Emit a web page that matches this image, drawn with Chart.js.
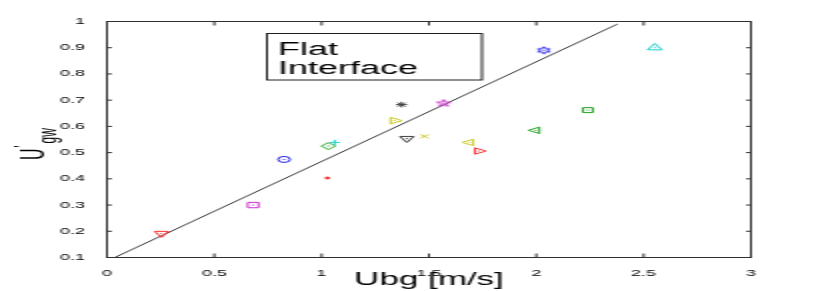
<!DOCTYPE html>
<html><head><meta charset="utf-8">
<script src="https://cdn.jsdelivr.net/npm/chart.js@4.4.1/dist/chart.umd.min.js"></script>
<style>
html,body{margin:0;padding:0;background:#fff;overflow:hidden}
#wrap{width:830px;height:291px;position:relative;overflow:hidden}
#c{position:absolute;left:0;top:0;width:415px;height:291px;transform:scaleX(2);transform-origin:0 0}
</style></head><body><div id="wrap"><canvas id="c" width="415" height="291"></canvas></div>
<script>
// ---- data ----
const ubg = [0.254, 0.681, 0.825, 1.031, 1.061, 1.027, 1.372, 1.339, 1.397, 1.479, 1.568, 1.689, 1.731, 1.997, 2.240, 2.035, 2.552];
const ugw = [0.192, 0.300, 0.474, 0.525, 0.539, 0.403, 0.683, 0.622, 0.554, 0.562, 0.688, 0.539, 0.506, 0.585, 0.662, 0.890, 0.900];
const fitX = [0.036, 2.378];
const fitY = [0.100, 0.990];
const xTickValues = [0, 0.5, 1, 1.5, 2, 2.5, 3];
const xTickLabels = ['0', '0.5', '1', '1.5', '2', '2.5', '3'];
const yTickValues = [0.1, 0.2, 0.3, 0.4, 0.5, 0.6, 0.7, 0.8, 0.9, 1];
const yTickLabels = ['0.1', '0.2', '0.3', '0.4', '0.5', '0.6', '0.7', '0.8', '0.9', '1'];
const xTitle = 'Ubg [m/s]';
const boxLines = ['Flat', 'Interface'];

// ---- marker styling ----
const C = {r:'#ff3030', m:'#d030d0', b:'#2020f0', g:'#20a020', c:'#20d0d0', y:'#c8c820', k:'#404040'};
function makeStar(n, ro, ri, color){
  const cv = document.createElement('canvas'); cv.width = 10; cv.height = 10;
  const g = cv.getContext('2d'); g.strokeStyle = color; g.lineWidth = 1;
  g.beginPath();
  for (let i = 0; i < 2*n; i++){
    const a = -Math.PI/2 + i*Math.PI/n, r = i%2 ? ri : ro;
    const px = 5 + r*Math.cos(a), py = 5 + r*Math.sin(a);
    i ? g.lineTo(px, py) : g.moveTo(px, py);
  }
  g.closePath(); g.stroke();
  return cv;
}
const pent = makeStar(5, 3.7, 1.5, C.m);
const hexa = makeStar(6, 3.4, 1.9, C.b);
const mColors = [C.r, C.m, C.b, C.g, C.c, C.r, C.k, C.y, C.k, C.y, C.m, C.y, C.r, C.g, C.g, C.b, C.c];
const mStyles = ['triangle','rect','circle','rectRot','cross','circle','star','triangle','triangle','crossRot',pent,'triangle','triangle','triangle','rect',hexa,'triangle'];
const mRot    = [180,0,0,0,0,0,0,90,180,0,0,-90,90,-90,0,0,0];
const mRad    = [4,3.8,3,3.5,2.6,1,2.8,3.8,4,2.8,4,3.7,3.7,3.7,3.5,4,4.2];

const FONT = "'Liberation Sans', Arial, Helvetica, sans-serif";

const framePlugin = {
  id: 'frame',
  afterDatasetsDraw(chart){
    const {ctx} = chart;
    const meta = chart.getDatasetMeta(0);
    ctx.save();
    meta.data.forEach((el, i) => {
      ctx.fillStyle = mColors[i];
      ctx.fillRect(el.x - 0.5, el.y - 0.5, 1, 1);
    });
    ctx.restore();
  },
  afterDraw(chart){
    const {ctx, chartArea: a, scales: {x, y}} = chart;
    ctx.save();
    ctx.strokeStyle = '#303030'; ctx.lineWidth = 1;
    ctx.strokeRect(a.left, a.top, a.right - a.left, a.bottom - a.top);
    ctx.beginPath();
    x.ticks.forEach(t => {
      const px = x.getPixelForValue(t.value);
      ctx.moveTo(px, a.bottom); ctx.lineTo(px, a.bottom - 4);
      ctx.moveTo(px, a.top); ctx.lineTo(px, a.top + 4);
    });
    y.ticks.forEach(t => {
      const py = y.getPixelForValue(t.value);
      ctx.moveTo(a.left, py); ctx.lineTo(a.left + 2.5, py);
      ctx.moveTo(a.right, py); ctx.lineTo(a.right - 2.5, py);
    });
    ctx.stroke();

    // annotation box
    ctx.fillStyle = '#fff';
    ctx.fillRect(133.5, 33.5, 107.5, 46.5);
    ctx.strokeStyle = '#202020';
    ctx.strokeRect(133.5, 33.5, 107.5, 46.5);
    ctx.fillStyle = '#000';
    ctx.font = '18px ' + FONT;
    ctx.textBaseline = 'alphabetic'; ctx.textAlign = 'left';
    ctx.fillText(boxLines[0], 139, 55);
    ctx.fillText(boxLines[1], 139, 74);

    // y axis label  U'gw
    ctx.translate(22, 160);
    ctx.rotate(-Math.PI/2);
    ctx.font = '16px ' + FONT;
    ctx.fillText('U', 0, 0);
    const uw = ctx.measureText('U').width;
    ctx.font = '10px ' + FONT;
    ctx.fillText("'", uw + 1, -6.8);
    ctx.font = '12px ' + FONT;
    ctx.fillText('gw', uw + 5, 5.5);
    ctx.restore();
  }
};

new Chart(document.getElementById('c'), {
  type: 'scatter',
  data: {
    datasets: [{
      data: ubg.map((v, i) => ({x: v, y: ugw[i]})),
      pointStyle: mStyles,
      pointRotation: mRot,
      pointRadius: mRad,
      pointBorderColor: mColors,
      pointBackgroundColor: mColors.map((c, i) => i === 5 ? c : 'rgba(0,0,0,0)'),
      pointBorderWidth: 1,
      showLine: false
    }, {
      type: 'line',
      data: fitX.map((v, i) => ({x: v, y: fitY[i]})),
      borderColor: '#333',
      borderWidth: 1,
      pointRadius: 0,
      fill: false
    }]
  },
  options: {
    responsive: false,
    animation: false,
    devicePixelRatio: 1,
    layout: {padding: {left: 0, right: 39.5, top: 21.5, bottom: 0}},
    plugins: {legend: {display: false}, tooltip: {enabled: false}},
    scales: {
      x: {
        type: 'linear', min: 0, max: 3,
        afterBuildTicks: s => { s.ticks = xTickValues.map(v => ({value: v})); },
        afterFit: s => { s.height = 33.5; },
        grid: {display: false},
        border: {display: false},
        ticks: {padding: 3, color: '#000', font: {family: FONT, size: 9}, maxRotation: 0,
                callback: (v, i) => xTickLabels[i]},
        title: {display: true, text: xTitle, color: '#000', font: {family: FONT, size: 17.5, lineHeight: 1.2},
                padding: {top: 0, bottom: 0.5}}
      },
      y: {
        type: 'linear', min: 0.1, max: 1,
        afterBuildTicks: s => { s.ticks = yTickValues.map(v => ({value: v})); },
        afterFit: s => { s.width = 53.5; },
        grid: {display: false},
        border: {display: false},
        ticks: {padding: 3, color: '#000', font: {family: FONT, size: 9},
                callback: (v, i) => yTickLabels[i]}
      }
    }
  },
  plugins: [framePlugin]
});
</script></body></html>
